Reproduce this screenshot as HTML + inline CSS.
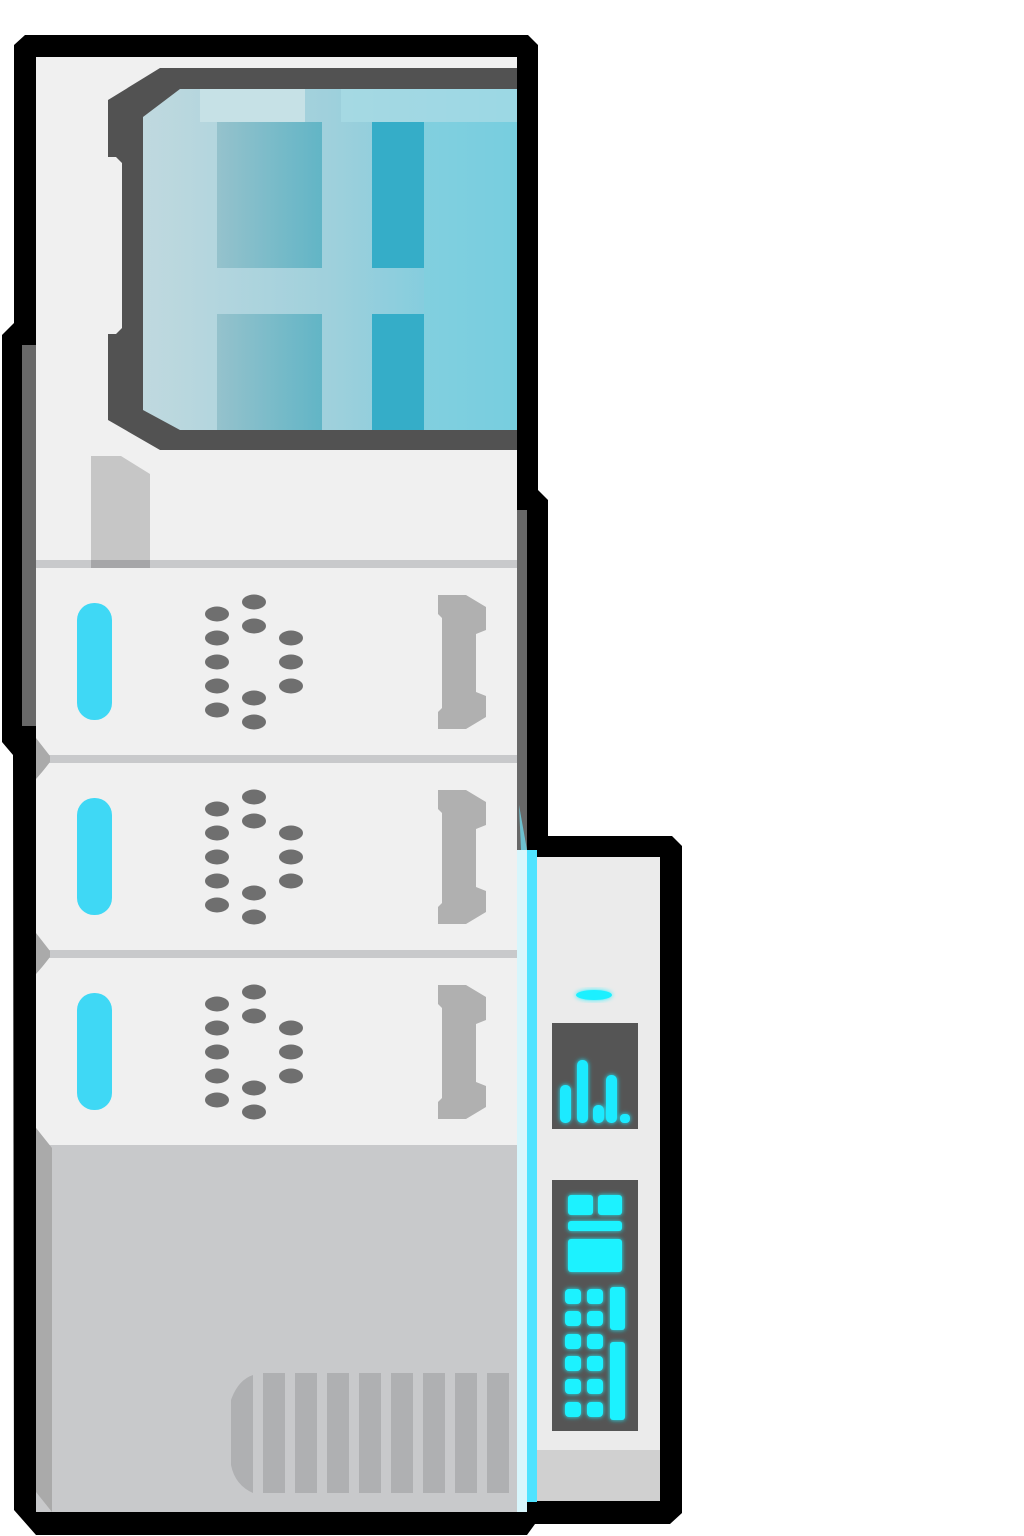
<!DOCTYPE html>
<html><head><meta charset="utf-8"><style>html,body{margin:0;padding:0;background:#fff}svg{display:block}</style></head>
<body>
<svg width="1024" height="1536" viewBox="0 0 1024 1536" xmlns="http://www.w3.org/2000/svg">
<defs>
<linearGradient id="glass" x1="0" x2="1" y1="0" y2="0">
<stop offset="0" stop-color="#c0d9df"/><stop offset="0.5" stop-color="#9fd0dc"/><stop offset="1" stop-color="#6ccadf"/>
</linearGradient>
<linearGradient id="pane" x1="0" x2="1"><stop offset="0" stop-color="#95c2cc"/><stop offset="1" stop-color="#62b5c6"/></linearGradient>
<filter id="glow" x="-30%" y="-30%" width="160%" height="160%"><feGaussianBlur stdDeviation="2.5" result="b"/><feMerge><feMergeNode in="b"/><feMergeNode in="SourceGraphic"/></feMerge></filter>
<g id="drawer">
<polygon points="50,568 517,568 517,755 50,755 36,738 36,584" fill="#f0f0f0"/>
<rect x="77" y="603" width="35" height="117" rx="17" fill="#3fd8f5"/>
<g fill="#6f6f6f">
<ellipse cx="217" cy="614" rx="12" ry="7.5"/><ellipse cx="217" cy="638" rx="12" ry="7.5"/><ellipse cx="217" cy="662" rx="12" ry="7.5"/><ellipse cx="217" cy="686" rx="12" ry="7.5"/><ellipse cx="217" cy="710" rx="12" ry="7.5"/>
<ellipse cx="254" cy="602" rx="12" ry="7.5"/><ellipse cx="254" cy="626" rx="12" ry="7.5"/><ellipse cx="254" cy="698" rx="12" ry="7.5"/><ellipse cx="254" cy="722" rx="12" ry="7.5"/>
<ellipse cx="291" cy="638" rx="12" ry="7.5"/><ellipse cx="291" cy="662" rx="12" ry="7.5"/><ellipse cx="291" cy="686" rx="12" ry="7.5"/>
</g>
<polygon points="438,595 466,595 486,607 486,630 476,634 476,692 486,696 486,717 466,729 438,729 438,712 442,708 442,618 438,614" fill="#b0b0b0"/>
<rect x="36" y="755" width="481" height="8" fill="#c8c9cb"/>
<polygon points="36,738 50,756 50,762 36,780" fill="#aaaaaa"/>
</g>
</defs>

<!-- black outline -->
<polygon fill="#000" points="25,35 528,35 538,45 538,490 548,500 548,836 672,836 682,846 682,1513 670,1524 535,1524 527,1535 36,1535 14,1510 13,755 2,742 2,335 14,323 14,45"/>

<!-- body -->
<rect x="36" y="57" width="481" height="1455" fill="#f0f0f0"/>
<rect x="22" y="345" width="14" height="381" fill="#686868"/>
<rect x="517" y="510" width="10" height="340" fill="#686868"/>

<!-- window -->
<polygon fill="#525252" points="160,68 517,68 517,450 160,450 108,420 108,334 116,334 122,328 122,163 116,157 108,157 108,100"/>
<polygon fill="url(#glass)" points="180,89 517,89 517,430 180,430 143,410 143,117"/>
<rect x="200" y="89" width="105" height="33" fill="#c6e1e6"/>
<rect x="341" y="89" width="176" height="33" fill="#a8dbe5" opacity="0.8"/>
<rect x="217" y="122" width="105" height="146" fill="url(#pane)"/>
<rect x="217" y="314" width="105" height="116" fill="url(#pane)"/>
<rect x="372" y="122" width="52" height="146" fill="#35adc8"/>
<rect x="372" y="314" width="52" height="116" fill="#35adc8"/>
<rect x="424" y="122" width="93" height="308" fill="#7fd0e0" opacity="0.6"/>

<!-- tab -->
<polygon fill="#c6c6c6" points="91,456 121,456 150,474 150,568 91,568"/>
<rect x="36" y="560" width="481" height="8" fill="#c8c9cb"/>
<rect x="91" y="560" width="59" height="8" fill="#a6a6a8"/>

<use href="#drawer"/>
<use href="#drawer" y="195"/>
<use href="#drawer" y="390"/>

<!-- bottom base -->
<rect x="36" y="1146" width="481" height="366" fill="#c8c9cb"/>
<polygon points="36,1128 52,1148 52,1512 36,1492" fill="#aaaaaa"/>
<g fill="#afb0b2">
<path d="M253,1375 L253,1493 Q235,1485 231,1465 L231,1400 Q238,1380 253,1375 Z"/>
<rect x="263" y="1373" width="22" height="120"/><rect x="295" y="1373" width="22" height="120"/>
<rect x="327" y="1373" width="22" height="120"/><rect x="359" y="1373" width="22" height="120"/>
<rect x="391" y="1373" width="22" height="120"/><rect x="423" y="1373" width="22" height="120"/>
<rect x="455" y="1373" width="22" height="120"/><rect x="487" y="1373" width="22" height="120"/>
</g>

<!-- right panel -->
<rect x="517" y="857" width="143" height="644" fill="#ebebeb"/>
<rect x="517" y="1450" width="143" height="51" fill="#d0d0d0"/>
<rect x="517" y="850" width="10" height="662" fill="#d8f6fc"/>
<rect x="527" y="850" width="10" height="652" fill="#4fe3ff"/>
<polygon points="519,805 527,850 521,850" fill="#6fe6fb" opacity="0.7"/>

<g fill="#1ef0ff" filter="url(#glow)">
<ellipse cx="594" cy="995" rx="18" ry="5"/>
</g>
<rect x="552" y="1023" width="86" height="106" fill="#555"/>
<g fill="#1eeaff" filter="url(#glow)">
<rect x="560" y="1085" width="11" height="38" rx="5"/>
<rect x="577" y="1060" width="11" height="63" rx="5"/>
<rect x="593" y="1105" width="11" height="18" rx="5"/>
<rect x="606" y="1075" width="11" height="48" rx="5"/>
<rect x="620" y="1114" width="10" height="9" rx="4"/>
</g>
<rect x="552" y="1180" width="86" height="251" fill="#555"/>
<g fill="#1ef2ff" filter="url(#glow)">
<rect x="568" y="1195" width="25" height="20" rx="3"/>
<rect x="598" y="1195" width="24" height="20" rx="3"/>
<rect x="568" y="1221" width="54" height="10" rx="3"/>
<rect x="568" y="1239" width="54" height="33" rx="3"/>
<rect x="565" y="1289" width="16" height="15" rx="4"/><rect x="587" y="1289" width="16" height="15" rx="4"/>
<rect x="565" y="1311" width="16" height="15" rx="4"/><rect x="587" y="1311" width="16" height="15" rx="4"/>
<rect x="565" y="1334" width="16" height="15" rx="4"/><rect x="587" y="1334" width="16" height="15" rx="4"/>
<rect x="565" y="1356" width="16" height="15" rx="4"/><rect x="587" y="1356" width="16" height="15" rx="4"/>
<rect x="565" y="1379" width="16" height="15" rx="4"/><rect x="587" y="1379" width="16" height="15" rx="4"/>
<rect x="565" y="1402" width="16" height="15" rx="4"/><rect x="587" y="1402" width="16" height="15" rx="4"/>
<rect x="610" y="1287" width="15" height="43" rx="3"/>
<rect x="610" y="1342" width="15" height="78" rx="3"/>
</g>
</svg>
</body></html>
